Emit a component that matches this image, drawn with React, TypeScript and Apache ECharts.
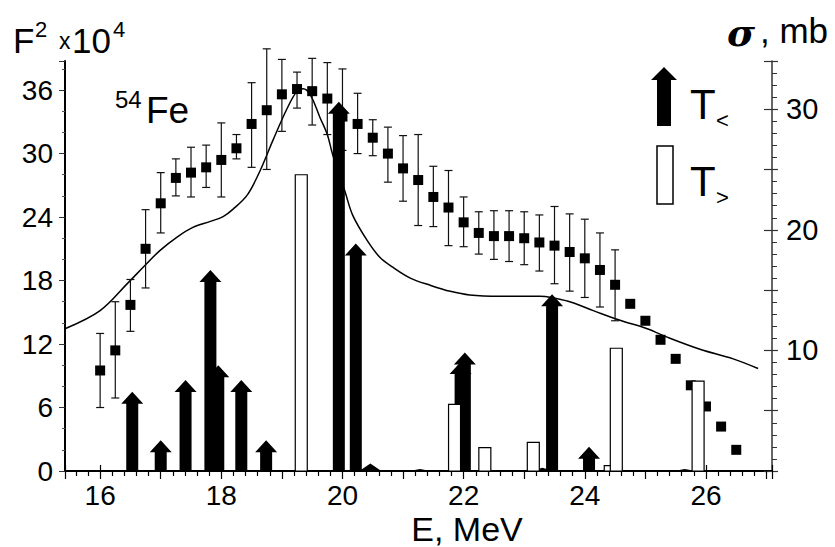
import React, { useEffect, useRef } from 'react';
import * as echarts from 'echarts';

// Experimental points (F^2 x 10^4) with error bars
const energies = [16.0, 16.25, 16.5, 16.75, 17.0, 17.25, 17.5, 17.75, 18.0, 18.25, 18.5, 18.75, 19.0, 19.25, 19.5, 19.75, 20.0, 20.25, 20.5, 20.75, 21.0, 21.25, 21.5, 21.75, 22.0, 22.25, 22.5, 22.75, 23.0, 23.25, 23.5, 23.75, 24.0, 24.25, 24.5, 24.75, 25.0, 25.25, 25.5, 25.75, 26.0, 26.25, 26.5];
const f2Values = [9.5, 11.4, 15.7, 21.0, 25.3, 27.7, 28.2, 28.7, 29.4, 30.5, 32.8, 34.1, 35.6, 36.1, 35.9, 35.2, 33.5, 32.8, 31.5, 30.0, 28.6, 27.5, 25.9, 24.9, 23.5, 22.5, 22.2, 22.2, 22.0, 21.6, 21.3, 20.7, 20.1, 19.0, 17.6, 15.8, 14.2, 12.4, 10.6, 8.1, 6.1, 4.2, 2.0];
const errLow = [6.0, 6.9, 13.2, 17.3, 22.5, 26.0, 25.9, 26.8, 25.9, 29.5, 28.7, 28.5, 32.1, 34.3, 32.7, 31.8, 30.3, 30.0, 29.8, 27.3, 25.5, 23.2, 23.1, 21.3, 21.2, 20.5, 20.0, 19.8, 19.5, 18.9, 17.7, 17.0, 16.4, 15.5, 14.2, null, null, null, null, null, null, null, null];
const errHigh = [13.0, 16.0, 18.1, 24.7, 28.2, 29.5, 30.6, 30.8, 32.9, 31.8, 36.7, 39.9, 38.9, 37.7, 39.0, 38.6, 38.0, 35.7, 33.2, 32.5, 31.7, 31.8, 28.8, 28.4, 25.9, 24.5, 24.6, 24.6, 24.5, 24.2, 25.0, 24.3, 23.8, 22.5, 20.9, null, null, null, null, null, null, null, null];

// Calculated cross section curve (sigma, mb)
const curveE = [15.42, 16.0, 16.46, 16.73, 16.99, 17.27, 17.53, 17.82, 18.03, 18.19, 18.43, 18.64, 18.85, 19.09, 19.25, 19.35, 19.47, 19.63, 19.75, 19.84, 20.04, 20.17, 20.41, 20.62, 20.83, 21.12, 21.45, 21.78, 22.1, 22.6, 23.26, 23.71, 24.14, 24.58, 25.03, 25.36, 25.9, 26.45, 26.86];
const curveSigma = [11.8, 13.3, 15.6, 17.0, 18.3, 19.4, 20.2, 20.7, 21.1, 21.7, 22.9, 24.9, 27.4, 30.1, 31.5, 31.7, 31.2, 29.3, 27.9, 26.2, 23.2, 21.2, 19.1, 17.7, 16.9, 16.0, 15.4, 14.9, 14.6, 14.5, 14.5, 14.1, 13.3, 12.5, 11.8, 11.1, 10.1, 9.3, 8.5];

// T< strengths (black arrows)
const tLessE = [16.53, 17.0, 17.41, 17.82, 17.95, 18.33, 18.74, 19.94, 20.22, 20.46, 21.28, 21.95, 22.02, 23.3, 23.46, 24.07, 25.65];
const tLessF2 = [7.5, 2.9, 8.6, 19.0, 10.0, 8.6, 2.9, 34.9, 21.5, 0.7, 0.2, 10.3, 11.2, 0.3, 16.7, 2.3, 0.2];

// T> strengths (open bars)
const tGreaterE = [19.32, 21.85, 22.35, 23.15, 24.42, 24.52, 25.87];
const tGreaterF2 = [28.0, 6.3, 2.2, 2.7, 0.5, 11.6, 8.5];

const FONT = '"Liberation Sans", Arial, sans-serif';

export default function App() {
  const ref = useRef<HTMLDivElement>(null);

  useEffect(() => {
    const chart = echarts.init(ref.current!, null, { renderer: 'svg' });

    const points = energies.map((e, i) => [e, f2Values[i]]);
    const errData: number[][] = [];
    energies.forEach((e, i) => {
      if (errLow[i] != null && errHigh[i] != null) errData.push([e, errLow[i] as number, errHigh[i] as number]);
    });
    const curve = curveE.map((e, i) => [e, curveSigma[i]]);
    const arrows = tLessE.map((e, i) => [e, tLessF2[i]]);
    const bars = tGreaterE.map((e, i) => [e, tGreaterF2[i]]);

    const option: any = {
      animation: false,
      backgroundColor: '#fff',
      grid: { left: 65, right: 63, top: 61, bottom: 76, containLabel: false },
      xAxis: [
        {
          type: 'value', min: 15.42, max: 27.09, splitNumber: 12,
          axisLine: { show: true, lineStyle: { color: '#000', width: 2 } },
          axisTick: { show: true, length: 8, lineStyle: { color: '#000', width: 1.2 } },
          minorTick: { show: true, splitNumber: 5, length: 5, lineStyle: { color: '#000', width: 1.2 } },
          splitLine: { show: false },
          axisLabel: {
            margin: 10, color: '#000', fontSize: 28, fontFamily: FONT,
            showMinLabel: false, showMaxLabel: false,
            formatter: (v: number) => (Math.abs(v - Math.round(v)) < 1e-6 && Math.round(v) % 2 === 0 ? String(Math.round(v)) : ''),
          },
        },
        {
          type: 'value', min: 15.42, max: 27.09, splitNumber: 6, position: 'bottom',
          axisLine: { show: false },
          axisTick: { show: true, inside: true, length: 6, lineStyle: { color: '#000', width: 1.2 } },
          axisLabel: { show: false }, splitLine: { show: false },
        },
      ],
      yAxis: [
        {
          type: 'value', min: 0, max: 38.75, interval: 6, position: 'left',
          axisLine: { show: true, lineStyle: { color: '#000', width: 2 } },
          axisTick: { show: true, length: 6, lineStyle: { color: '#333', width: 1 } },
          minorTick: { show: true, splitNumber: 3, length: 3, lineStyle: { color: '#555', width: 1 } },
          splitLine: { show: false },
          axisLabel: {
            margin: 12, color: '#000', fontSize: 28, fontFamily: FONT,
            formatter: (v: number) => (Math.abs(v % 6) < 1e-6 ? String(v) : ''),
          },
        },
        {
          type: 'value', min: 0, max: 34.0, interval: 5, position: 'right',
          axisLine: { show: true, lineStyle: { color: '#333', width: 1.5 } },
          axisTick: { show: true, length: 6, lineStyle: { color: '#333', width: 1.2 } },
          minorTick: { show: true, splitNumber: 5, length: 5, lineStyle: { color: '#333', width: 1 } },
          splitLine: { show: false },
          axisLabel: {
            margin: 14, color: '#000', fontSize: 29, fontFamily: FONT,
            formatter: (v: number) => (v > 0 && Math.abs(v % 10) < 1e-6 ? String(v) : ''),
          },
        },
        {
          type: 'value', min: 0, max: 34.0, interval: 5, position: 'right',
          axisLine: { show: false },
          axisTick: { show: true, inside: true, length: 8, lineStyle: { color: '#333', width: 1.2 } },
          axisLabel: { show: false }, splitLine: { show: false },
        },
      ],
      series: [
        {
          type: 'line', xAxisIndex: 0, yAxisIndex: 1, data: curve, showSymbol: false, symbol: 'none',
          smooth: 0.35, lineStyle: { color: '#000', width: 1.5 }, z: 1,
        },
        {
          type: 'custom', xAxisIndex: 0, yAxisIndex: 0, data: errData, z: 2, clip: false,
          renderItem: (params: any, api: any) => {
            const x = api.value(0);
            const lo = api.coord([x, api.value(1)]);
            const hi = api.coord([x, api.value(2)]);
            const cw = 4;
            const st = { stroke: '#111', lineWidth: 1.2 };
            return {
              type: 'group',
              children: [
                { type: 'line', shape: { x1: lo[0], y1: lo[1], x2: hi[0], y2: hi[1] }, style: st },
                { type: 'line', shape: { x1: lo[0] - cw, y1: lo[1], x2: lo[0] + cw, y2: lo[1] }, style: st },
                { type: 'line', shape: { x1: hi[0] - cw, y1: hi[1], x2: hi[0] + cw, y2: hi[1] }, style: st },
              ],
            };
          },
        },
        {
          type: 'scatter', xAxisIndex: 0, yAxisIndex: 0, data: points, symbol: 'rect', symbolSize: 10,
          itemStyle: { color: '#000', opacity: 1 }, z: 3,
        },
        {
          type: 'custom', xAxisIndex: 0, yAxisIndex: 0, data: arrows, z: 4,
          renderItem: (params: any, api: any) => {
            const x = api.value(0);
            const base = api.coord([x, 0]);
            const tip = api.coord([x, api.value(1)]);
            const cx = base[0];
            const total = base[1] - tip[1];
            const headH = Math.min(12, total);
            const sw = 6, hw = 11;
            const hb = tip[1] + headH;
            const pts = [
              [cx - sw, base[1]], [cx - sw, hb], [cx - hw, hb], [cx, tip[1]],
              [cx + hw, hb], [cx + sw, hb], [cx + sw, base[1]],
            ];
            return { type: 'polygon', shape: { points: pts }, style: { fill: '#000' } };
          },
        },
        {
          type: 'custom', xAxisIndex: 0, yAxisIndex: 0, data: bars, z: 5,
          renderItem: (params: any, api: any) => {
            const x = api.value(0);
            const base = api.coord([x, 0]);
            const top = api.coord([x, api.value(1)]);
            const w = 12;
            return {
              type: 'rect',
              shape: { x: base[0] - w / 2, y: top[1], width: w, height: base[1] - top[1] },
              style: { fill: '#fff', stroke: '#000', lineWidth: 1.2 },
            };
          },
        },
      ],
      graphic: [
        { type: 'text', x: 13, y: 40, z: 100, style: { text: 'F', fontSize: 35, fontFamily: FONT, fill: '#000', align: 'left', verticalAlign: 'middle' } },
        { type: 'text', x: 35, y: 29, z: 100, style: { text: '2', fontSize: 22, fontFamily: FONT, fill: '#000', align: 'left', verticalAlign: 'middle' } },
        { type: 'text', x: 59, y: 41, z: 100, style: { text: 'x', fontSize: 23, fontFamily: FONT, fill: '#000', align: 'left', verticalAlign: 'middle' } },
        { type: 'text', x: 72, y: 40, z: 100, style: { text: '10', fontSize: 35, fontFamily: FONT, fill: '#000', align: 'left', verticalAlign: 'middle' } },
        { type: 'text', x: 113, y: 29, z: 100, style: { text: '4', fontSize: 22, fontFamily: FONT, fill: '#000', align: 'left', verticalAlign: 'middle' } },
        { type: 'text', x: 727, y: 32, z: 100, style: { text: 'σ', fontSize: 38, fontFamily: '"DejaVu Serif", serif', fontStyle: 'italic', fontWeight: 'bold', fill: '#000', align: 'left', verticalAlign: 'middle' } },
        { type: 'text', x: 760, y: 30, z: 100, style: { text: ', mb', fontSize: 35, fontFamily: FONT, fill: '#000', align: 'left', verticalAlign: 'middle' } },
        { type: 'text', x: 115, y: 99, z: 100, style: { text: '54', fontSize: 24, fontFamily: FONT, fill: '#000', align: 'left', verticalAlign: 'middle' } },
        { type: 'text', x: 146, y: 110, z: 100, style: { text: 'Fe', fontSize: 37, fontFamily: FONT, fill: '#000', align: 'left', verticalAlign: 'middle' } },
        { type: 'text', x: 467, y: 529, z: 100, style: { text: 'E, MeV', fontSize: 34, lineHeight: 30, fontFamily: FONT, fill: '#000', align: 'center', verticalAlign: 'middle' } },
        { type: 'polygon', z: 100, shape: { points: [[657, 126], [657, 80], [651, 80], [664, 67], [677, 80], [671, 80], [671, 126]] }, style: { fill: '#000' } },
        { type: 'text', x: 690, y: 104, z: 100, style: { text: 'T', fontSize: 42, fontFamily: FONT, fill: '#000', align: 'left', verticalAlign: 'middle' } },
        { type: 'text', x: 716, y: 120, z: 100, style: { text: '<', fontSize: 22, fontFamily: FONT, fill: '#000', align: 'left', verticalAlign: 'middle' } },
        { type: 'rect', z: 100, shape: { x: 657, y: 146, width: 16, height: 58 }, style: { fill: '#fff', stroke: '#000', lineWidth: 1.5 } },
        { type: 'text', x: 690, y: 181, z: 100, style: { text: 'T', fontSize: 42, fontFamily: FONT, fill: '#000', align: 'left', verticalAlign: 'middle' } },
        { type: 'text', x: 716, y: 197, z: 100, style: { text: '>', fontSize: 22, fontFamily: FONT, fill: '#000', align: 'left', verticalAlign: 'middle' } },
      ],
    };

    chart.setOption(option);
    return () => chart.dispose();
  }, []);

  return (
    <div
      ref={ref}
      style={{ position: 'absolute', left: 0, top: 0, width: 835, height: 547, background: '#fff' }}
    />
  );
}
